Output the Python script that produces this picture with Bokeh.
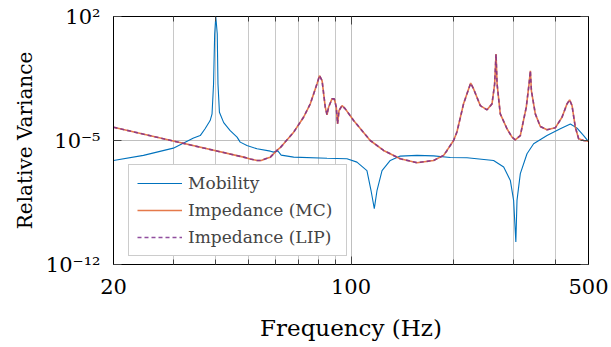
from bokeh.plotting import figure
from bokeh.models import FixedTicker, CustomJSTickFormatter, Legend, LegendItem, LogAxis
from bokeh.embed import file_html
from bokeh.resources import INLINE

# ---- data ----
freq_mob = [20.0, 24.5, 30.0, 34.4, 36.0, 37.2, 38.5, 39.0, 39.4, 39.7,
            40.0, 40.4, 40.6, 41.0, 42.2, 44.1, 46.2, 47.2, 49.4, 52.9,
            57.9, 59.2, 60.9, 62.3, 67.8, 85.0, 97.3, 104.1, 111.4, 114.5,
            117.1, 119.3, 123.4, 130.5, 139.6, 156.4, 175.0, 196.0, 219.5, 262.8,
            281.4, 294.4, 301.0, 305.6, 308.0, 315.0, 329.6, 344.7, 377.4, 413.0,
            442.2, 462.7, 483.8, 500.0]
var_mob = [7.5e-7, 1.44e-6, 3.7e-6, 1.38e-5, 1.9e-5, 4.6e-5, 1.34e-4, 3.2e-4, 1.55e-2, 10.2,
           100, 10.2, 1.55e-2, 3.9e-4, 1.02e-4, 3.6e-5, 1.55e-5, 8.1e-6, 5.2e-6, 3.4e-6,
           2.5e-6, 2.2e-6, 2.6e-6, 1.5e-6, 1.15e-6, 1.0e-6, 9.3e-7, 6.0e-7, 2.0e-7, 1.55e-8,
           1.44e-9, 1.55e-8, 2.0e-7, 7.5e-7, 1.32e-6, 1.44e-6, 1.35e-6, 1.1e-6, 1.07e-6, 7.5e-7,
           3.2e-7, 5.6e-8, 4.2e-9, 1.86e-11, 4.2e-9, 1.35e-7, 1.78e-6, 6.6e-6, 1.9e-5, 4.6e-5,
           8.5e-5, 5.0e-5, 1.9e-5, 8.7e-6]

freq_imp = [20.0, 30.0, 48.3, 50.5, 52.9, 54.4, 56.6, 57.9, 60.5, 61.9,
            67.8, 72.5, 75.9, 79.4, 80.8, 82.2, 84.0, 85.0, 85.9, 87.9,
            89.3, 90.5, 91.3, 92.2, 94.1, 96.2, 101.8, 113.9, 124.7, 139.6,
            156.4, 175.0, 187.3, 191.7, 200.4, 205.0, 214.4, 225.0, 229.5, 240.2,
            251.4, 260.0, 264.7, 267.2, 269.1, 275.0, 287.8, 297.8, 304.4, 315.0,
            328.0, 334.2, 337.2, 339.5, 348.7, 360.7, 377.4, 399.2, 417.8, 432.2,
            440.0, 447.2, 457.3, 467.7, 483.8, 500.0]
var_imp_mc = [5.6e-5, 9.3e-6, 1.15e-6, 9.1e-7, 7.5e-7, 7.5e-7, 9.8e-7, 1.15e-6, 2.75e-6, 3.9e-6,
              2.95e-5, 2.05e-4, 1.17e-3, 1.55e-2, 4.6e-2, 2.4e-2, 7.6e-4, 2.8e-4, 7.6e-4, 2.24e-3,
              2.24e-3, 7.6e-4, 8.7e-5, 4.9e-4, 9.3e-4, 6.1e-4, 1.34e-4, 1.0e-5, 2.75e-6, 9.3e-7,
              5.6e-7, 7.5e-7, 1.44e-6, 2.75e-6, 1.0e-5, 3.0e-5, 1.17e-3, 1.74e-2, 8.1e-3, 9.3e-4,
              5.4e-4, 1.17e-3, 1.55e-2, 0.76, 1.55e-2, 3.2e-4, 4.6e-5, 1.55e-5, 1.1e-5, 1.9e-5,
              7.6e-4, 1.55e-2, 8.7e-2, 6.6e-3, 3.2e-4, 6.2e-5, 4.0e-5, 5.2e-5, 2.05e-4, 1.17e-3,
              1.95e-3, 9.3e-4, 5.6e-5, 1.26e-5, 1.0e-5, 9.1e-6]
var_imp_lip = list(var_imp_mc)  # LIP estimate coincides with MC in the picture

series_labels = ["Mobility", "Impedance (MC)", "Impedance (LIP)"]

x_ticks = [20, 100, 500]
x_tick_labels = ["20", "100", "500"]
x_minor_ticks = [30, 40, 50, 60, 70, 80, 90, 200, 300, 400]
y_ticks = [1e-12, 1e-5, 1e2]
y_tick_labels = ["10\u207b\u00b9\u00b2", "10\u207b\u2075", "10\u00b2"]

FONT = "DejaVu Serif"

fmt_code = """
let best = -1, bd = 1e9;
for (let i = 0; i < vals.length; i++) {
  const d = Math.abs(Math.log10(vals[i]) - Math.log10(tick));
  if (d < bd) { bd = d; best = i; }
}
return bd < 1e-6 ? labs[best] : "";
"""

p = figure(width=611, height=347, x_axis_type="log", y_axis_type="log",
           x_range=(20, 500), y_range=(1e-12, 1e2),
           output_backend="svg", toolbar_location=None,
           min_border_left=113, min_border_right=23, min_border_top=16, min_border_bottom=83,
           background_fill_color="white", border_fill_color="white")

xt = FixedTicker(ticks=x_ticks, minor_ticks=x_minor_ticks)
yt = FixedTicker(ticks=y_ticks, minor_ticks=[])
p.xaxis.ticker = xt
p.yaxis.ticker = yt
p.xgrid.ticker = xt
p.ygrid.ticker = yt
p.xaxis.formatter = CustomJSTickFormatter(args=dict(vals=x_ticks, labs=x_tick_labels), code=fmt_code)
p.yaxis.formatter = CustomJSTickFormatter(args=dict(vals=y_ticks, labs=y_tick_labels), code=fmt_code)

for ax in (p.xaxis, p.yaxis):
    ax.major_label_text_font = FONT
    ax.major_label_text_font_size = "21px"
    ax.major_label_text_color = "black"
    ax.axis_label_text_font = FONT
    ax.axis_label_text_font_style = "normal"
    ax.axis_label_text_color = "black"
    ax.major_tick_in = 8
    ax.major_tick_out = 0
    ax.minor_tick_in = 5
    ax.minor_tick_out = 0
    ax.major_tick_line_color = "#444444"
    ax.minor_tick_line_color = "#444444"
    ax.axis_line_color = "black"

p.xaxis.axis_label = "Frequency (Hz)"
p.yaxis.axis_label = "Relative Variance"
p.xaxis.axis_label_text_font_size = "23px"
p.yaxis.axis_label_text_font_size = "20px"
p.xaxis.major_label_standoff = 14
p.yaxis.major_label_standoff = 13
p.xaxis.axis_label_standoff = 18
p.yaxis.axis_label_standoff = 6

blank = CustomJSTickFormatter(code="return '';")
top = LogAxis(ticker=xt, formatter=blank, major_label_text_alpha=0, major_label_standoff=0,
              major_tick_in=8, major_tick_out=0,
              minor_tick_in=5, minor_tick_out=0, major_tick_line_color="#444444",
              minor_tick_line_color="#444444", axis_line_color="black")
right = LogAxis(ticker=yt, formatter=blank, major_label_text_alpha=0, major_label_standoff=0,
                major_tick_in=8, major_tick_out=0,
                minor_tick_in=5, minor_tick_out=0, major_tick_line_color="#444444",
                axis_line_color="black")
p.add_layout(top, "above")
p.add_layout(right, "right")

p.xgrid.grid_line_color = "#bfbfbf"
p.xgrid.minor_grid_line_color = "#c8c8c8"
p.ygrid.grid_line_color = "#bfbfbf"
p.ygrid.minor_grid_line_color = None
p.outline_line_color = "black"
p.outline_line_width = 1

r_mob = p.line(freq_mob, var_mob, line_color="#0072BD", line_width=1.1)
r_mc = p.line(freq_imp, var_imp_mc, line_color="#E0622A", line_width=1.6, line_alpha=0.85)
r_lip = p.line(freq_imp, var_imp_lip, line_color="#7E2F8E", line_width=1.6, line_alpha=0.85,
               line_dash="4 3")

legend = Legend(items=[LegendItem(label=series_labels[0], renderers=[r_mob]),
                       LegendItem(label=series_labels[1], renderers=[r_mc]),
                       LegendItem(label=series_labels[2], renderers=[r_lip])],
                location=(15, 8), margin=0, padding=8, spacing=7,
                glyph_width=45, glyph_height=20, label_height=20, label_width=150,
                label_standoff=6, label_text_font=FONT, label_text_font_size="17px",
                border_line_color="#999999", border_line_width=1.5,
                background_fill_color="white", background_fill_alpha=1.0)
p.add_layout(legend)

open("out.html", "w").write(file_html(p, INLINE))
